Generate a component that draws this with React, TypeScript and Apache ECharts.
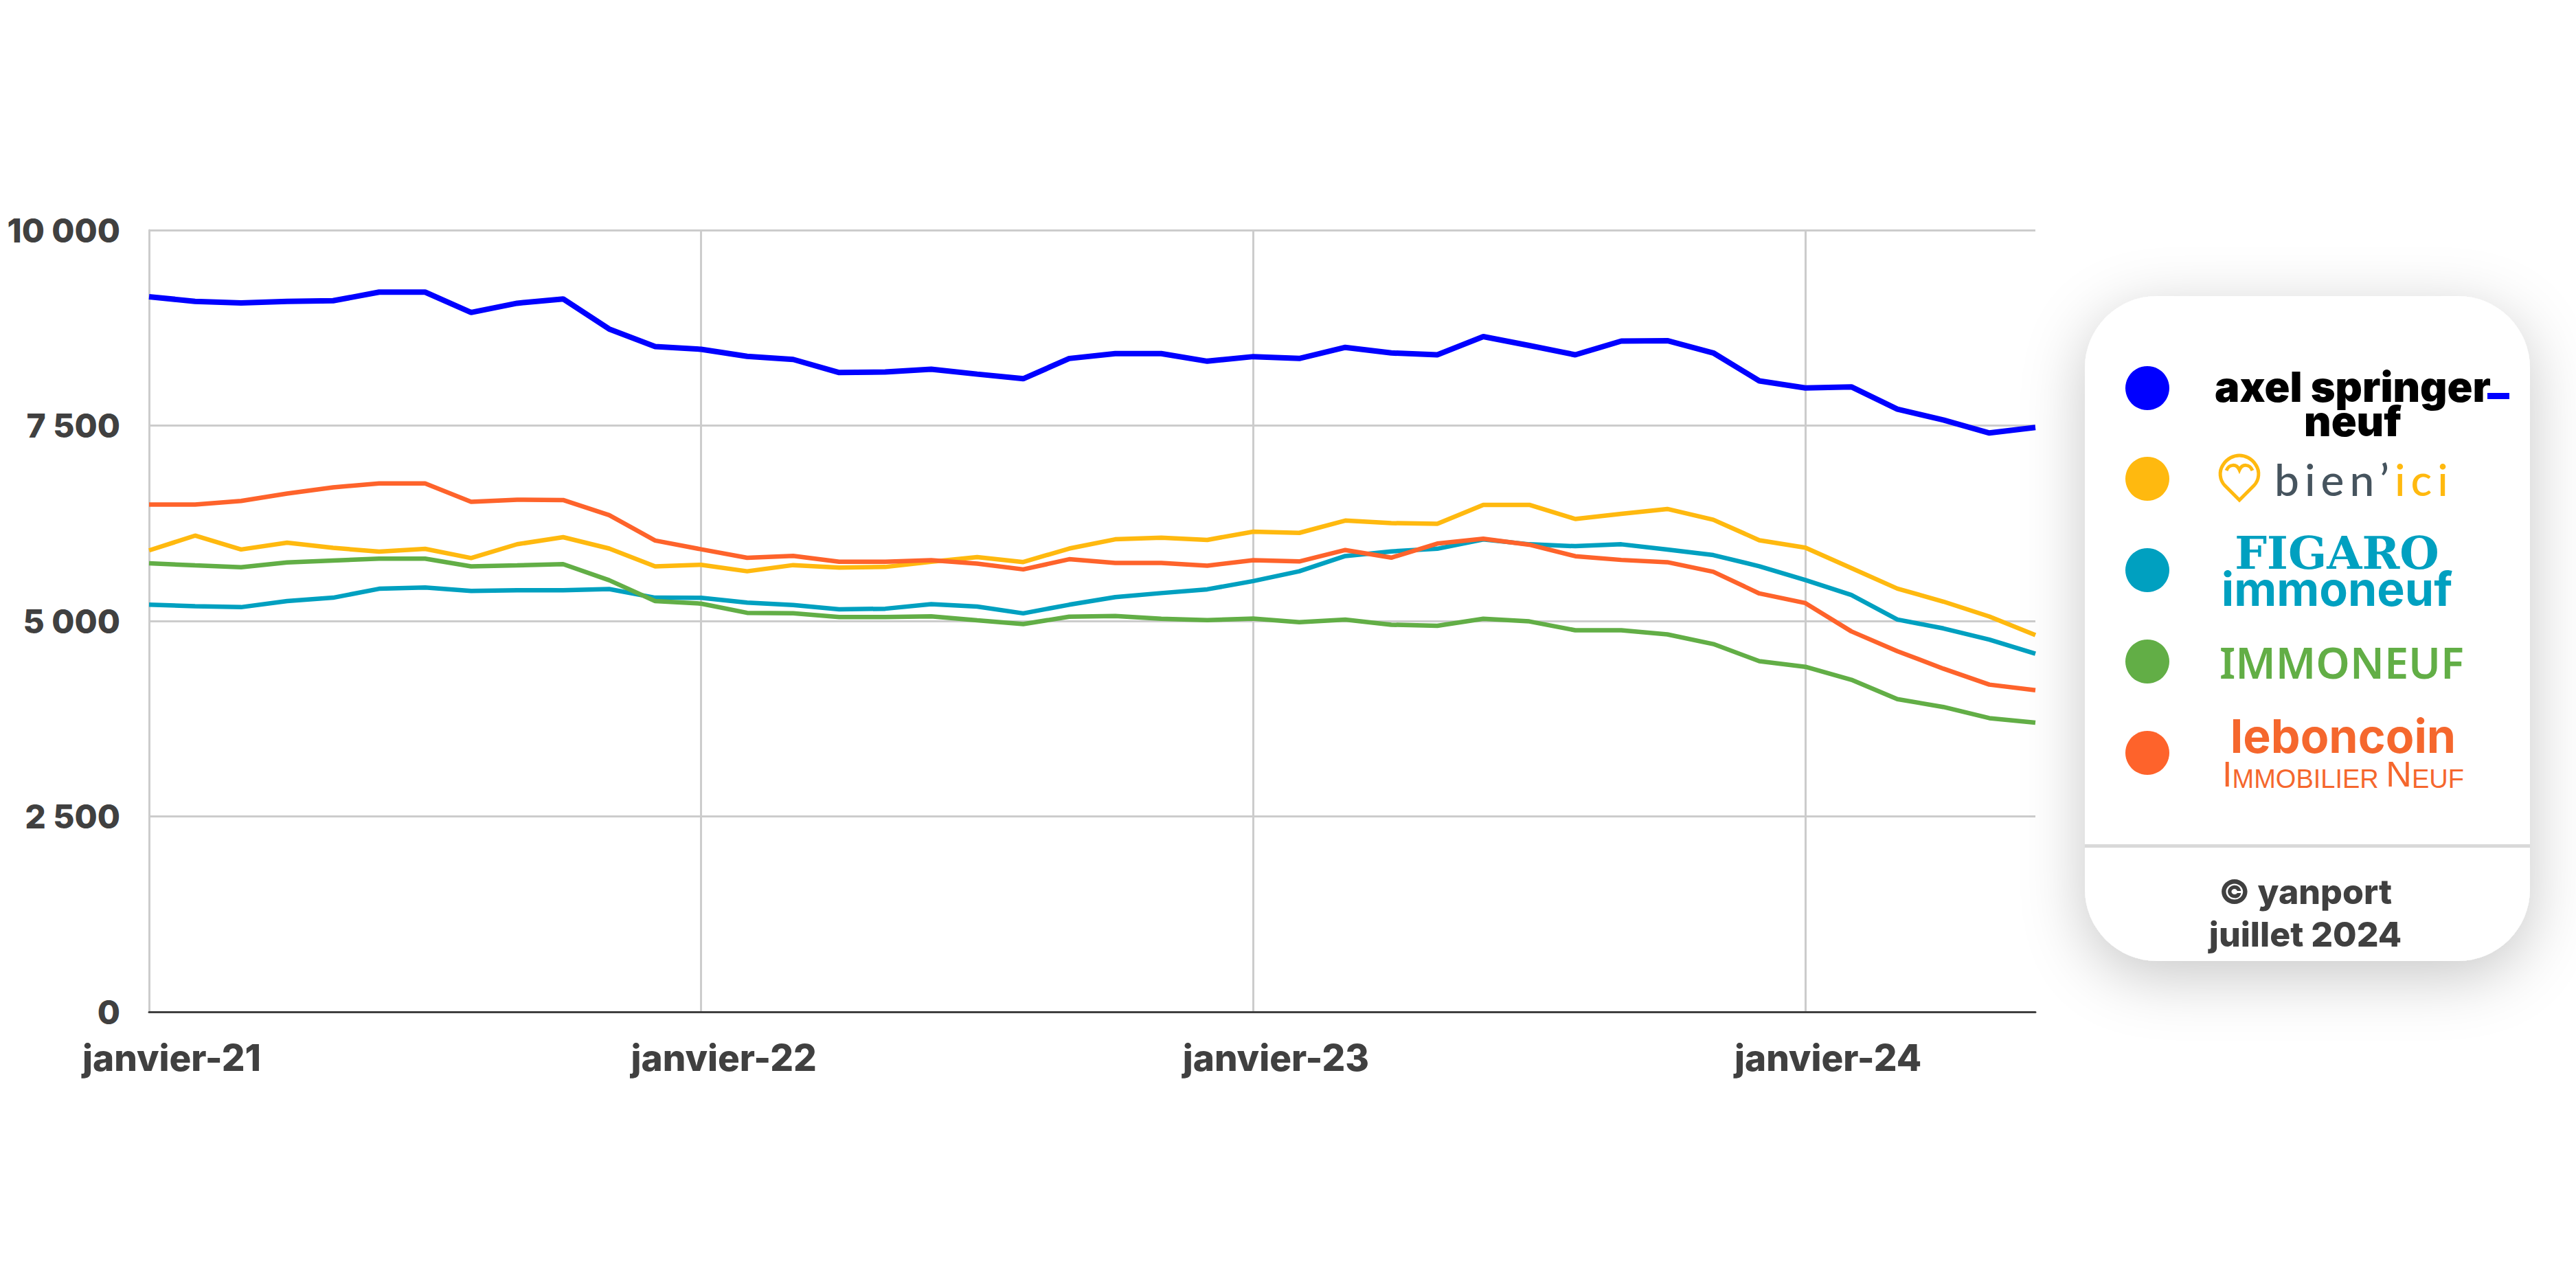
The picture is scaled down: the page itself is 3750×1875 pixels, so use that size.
import React, { useEffect, useRef } from "react";
import * as echarts from "echarts";

const CATEGORIES = [
  "janvier-21", "février-21", "mars-21", "avril-21", "mai-21", "juin-21", "juillet-21", "août-21", "septembre-21", "octobre-21", "novembre-21", "décembre-21",
  "janvier-22", "février-22", "mars-22", "avril-22", "mai-22", "juin-22", "juillet-22", "août-22", "septembre-22", "octobre-22", "novembre-22", "décembre-22",
  "janvier-23", "février-23", "mars-23", "avril-23", "mai-23", "juin-23", "juillet-23", "août-23", "septembre-23", "octobre-23", "novembre-23", "décembre-23",
  "janvier-24", "février-24", "mars-24", "avril-24", "mai-24", "juin-24",
];

const AXEL_SPRINGER = [
  9148, 9089, 9069, 9089, 9097, 9207, 9207, 8947, 9065, 9120, 8735, 8511,
  8476, 8386, 8346, 8178, 8185, 8221, 8158, 8099, 8358, 8421, 8421, 8323,
  8382, 8358, 8500, 8429, 8405, 8638, 8524, 8405, 8581, 8586, 8429, 8071,
  7981, 7995, 7710, 7571, 7405, 7476,
];
const BIEN_ICI = [
  5903, 6092, 5915, 6002, 5935, 5888, 5923, 5805, 5982, 6072, 5927, 5699,
  5719, 5636, 5715, 5683, 5691, 5758, 5817, 5754, 5927, 6045, 6065, 6037,
  6143, 6127, 6285, 6252, 6243, 6486, 6486, 6305, 6371, 6433, 6295, 6033,
  5938, 5676, 5414, 5248, 5057, 4819,
];
const FIGARO = [
  5208, 5189, 5177, 5255, 5298, 5412, 5428, 5385, 5393, 5393, 5408, 5298,
  5297, 5236, 5204, 5149, 5157, 5216, 5185, 5098, 5208, 5306, 5357, 5405,
  5511, 5636, 5831, 5890, 5924, 6043, 5981, 5957, 5981, 5914, 5843, 5700,
  5524, 5333, 5019, 4905, 4762, 4581,
];
const IMMONEUF = [
  5738, 5711, 5687, 5750, 5774, 5797, 5797, 5699, 5711, 5727, 5522, 5255,
  5222, 5104, 5098, 5051, 5051, 5059, 5008, 4961, 5055, 5063, 5028, 5012,
  5031, 4984, 5018, 4952, 4938, 5029, 4995, 4881, 4881, 4829, 4705, 4486,
  4414, 4248, 4000, 3900, 3757, 3700,
];
const LEBONCOIN = [
  6489, 6489, 6536, 6630, 6709, 6760, 6760, 6524, 6551, 6547, 6355, 6029,
  5917, 5809, 5833, 5758, 5758, 5778, 5734, 5660, 5790, 5742, 5742, 5707,
  5778, 5762, 5908, 5810, 5990, 6052, 5976, 5829, 5781, 5752, 5629, 5352,
  5229, 4867, 4614, 4390, 4186, 4114,
];

const SERIES_NAMES = ["axel springer neuf", "bien'ici", "FIGARO immoneuf", "IMMONEUF", "leboncoin Immobilier Neuf"];
const SERIES_COLORS = ["#0000ff", "#ffb90f", "#00a0c0", "#62ae46", "#fe632b"];

const LABEL_FONT = "Inter, Lato, 'Open Sans', sans-serif";
const TEXT_DARK = "#404040";

const HEART_PATH =
  "M30 66 L9 45 C1 37 0 24 6 15 C12 5 22 1 30 1 C38 1 48 5 54 15 C60 24 59 37 51 45 Z M11 23 C15 13 26 13 30 22 C34 13 45 13 49 23";

function fmt(v: number): string {
  return String(v).replace(/\B(?=(\d{3})+(?!\d))/g, " ");
}

function txt(text: string, x: number, y: number, o: any = {}) {
  const align = o.align || "left";
  return {
    type: "text",
    x,
    y,
    style: {
      text,
      fill: o.fill || TEXT_DARK,
      fontSize: o.fontSize || 46,
      fontWeight: o.fontWeight || "bold",
      fontFamily: o.fontFamily || LABEL_FONT,
      lineHeight: o.lineHeight,
      align,
      textAlign: align,
      verticalAlign: "middle",
      textVerticalAlign: "middle",
      rich: o.rich,
    },
    z: 10,
  };
}

export default function App() {
  const ref = useRef<HTMLDivElement>(null);

  useEffect(() => {
    echarts.graphic.registerShape("bienici-heart", echarts.graphic.extendPath(HEART_PATH, {}) as any);
    const chart = echarts.init(ref.current!, null, { renderer: "svg" });
    const dataSets = [AXEL_SPRINGER, BIEN_ICI, FIGARO, IMMONEUF, LEBONCOIN];
    const widths = [8, 6.5, 6.5, 6.5, 6.5];
    const dotYs = [565, 697, 830, 963, 1096];
    const orangeFont = "'Liberation Sans', Arimo, 'Noto Sans', sans-serif";
    const orange = "#f5672d";
    const teal = "#00a0c0";

    const option: any = {
      animation: false,
      backgroundColor: "#ffffff",
      grid: { left: 217, right: 787, top: 335, bottom: 402, containLabel: false },
      xAxis: {
        type: "category",
        boundaryGap: false,
        data: CATEGORIES,
        axisLine: { show: true, lineStyle: { color: TEXT_DARK, width: 3 } },
        axisTick: { show: false },
        axisLabel: {
          interval: 11,
          color: TEXT_DARK,
          fontSize: 53,
          fontWeight: 800,
          fontFamily: LABEL_FONT,
          margin: 40,
          padding: [0, 0, 0, 66],
        },
        splitLine: { show: true, interval: 11, lineStyle: { color: "#cccccc", width: 3 } },
      },
      yAxis: {
        type: "value",
        min: 0,
        max: 10000,
        interval: 2500,
        axisLine: { show: true, lineStyle: { color: "#cccccc", width: 3 } },
        axisTick: { show: false },
        splitLine: { show: true, lineStyle: { color: "#cccccc", width: 3 } },
        axisLabel: {
          color: TEXT_DARK,
          fontSize: 48,
          fontWeight: 800,
          fontFamily: LABEL_FONT,
          margin: 42,
          formatter: (v: number) => fmt(v),
        },
      },
      series: dataSets.map((d, i) => ({
        name: SERIES_NAMES[i],
        type: "line",
        data: d,
        symbol: "none",
        lineStyle: { color: SERIES_COLORS[i], width: widths[i] },
        itemStyle: { color: SERIES_COLORS[i] },
        z: 2 + i,
      })),
      graphic: [
        {
          type: "rect",
          shape: { x: 3035, y: 431, width: 648, height: 968, r: 105 },
          style: { fill: "#ffffff", shadowBlur: 90, shadowColor: "rgba(0,0,0,0.22)", shadowOffsetY: 22 },
          z: 5,
        },
        {
          type: "rect",
          shape: { x: 3035, y: 1229, width: 648, height: 5 },
          style: { fill: "#d9d9d9" },
          z: 6,
        },
        ...dotYs.map((cy, i) => ({
          type: "circle",
          shape: { cx: 3126, cy, r: 32 },
          style: { fill: SERIES_COLORS[i] },
          z: 10,
        })),
        // axel springer neuf
        txt("axel springer\nneuf", 3425, 588, { align: "center", fill: "#000000", fontSize: 61, fontWeight: 900, lineHeight: 50 }),
        { type: "rect", shape: { x: 3621, y: 572, width: 32, height: 9 }, style: { fill: "#0000ff" }, z: 10 },
        // bien'ici
        {
          type: "bienici-heart",
          x: 3230,
          y: 662,
          style: { fill: "none", stroke: "#ffb90f", lineWidth: 5 },
          z: 10,
        },
        txt("{a|b\u2009i\u2009e\u2009n\u2009’}{b|\u2009i\u2009c\u2009i}", 3311, 697, {
          fontSize: 64,
          fontWeight: 500,
          fontFamily: "Lato, 'Noto Sans', sans-serif",
          rich: {
            a: { fill: "#46545e", color: "#46545e", fontSize: 64, fontWeight: 500, fontFamily: "Lato, 'Noto Sans', sans-serif" },
            b: { fill: "#ffb90f", color: "#ffb90f", fontSize: 64, fontWeight: 500, fontFamily: "Lato, 'Noto Sans', sans-serif" },
          },
        }),
        // FIGARO immoneuf
        txt("{f|FIGARO}\n{i|immoneuf}", 3402, 831, {
          align: "center",
          fill: teal,
          rich: {
            f: { fill: teal, color: teal, fontSize: 66, fontWeight: "bold", fontFamily: "'DejaVu Serif', serif", lineHeight: 52, align: "center" },
            i: { fill: teal, color: teal, fontSize: 68, fontWeight: "bold", fontFamily: LABEL_FONT, lineHeight: 52, align: "center" },
          },
        }),
        // IMMONEUF
        txt("IMMONEUF", 3231, 963, {
          fill: "#62ae46",
          fontSize: 63,
          fontWeight: 600,
          fontFamily: "'Noto Sans', sans-serif",
        }),
        // leboncoin
        txt("{l|leboncoin}\n{b|I}{s|MMOBILIER }{b|N}{s|EUF}", 3411, 1098, {
          align: "center",
          fill: orange,
          rich: {
            l: { fill: orange, color: orange, fontSize: 68, fontWeight: "bold", fontFamily: LABEL_FONT, lineHeight: 55, align: "center" },
            b: { fill: orange, color: orange, fontSize: 52, fontWeight: "normal", fontFamily: orangeFont, lineHeight: 55, verticalAlign: "bottom", align: "center" },
            s: { fill: orange, color: orange, fontSize: 38, fontWeight: "normal", fontFamily: orangeFont, lineHeight: 47, verticalAlign: "bottom", align: "center" },
          },
        }),
        // credits
        txt("© yanport\njuillet 2024", 3356, 1329, { align: "center", fontSize: 50, fontWeight: 800, lineHeight: 62 }),
      ],
    };

    chart.setOption(option);
    return () => chart.dispose();
  }, []);

  return (
    <div
      ref={ref}
      style={{ position: "absolute", left: 0, top: 0, width: 3750, height: 1875, background: "#ffffff" }}
    />
  );
}
